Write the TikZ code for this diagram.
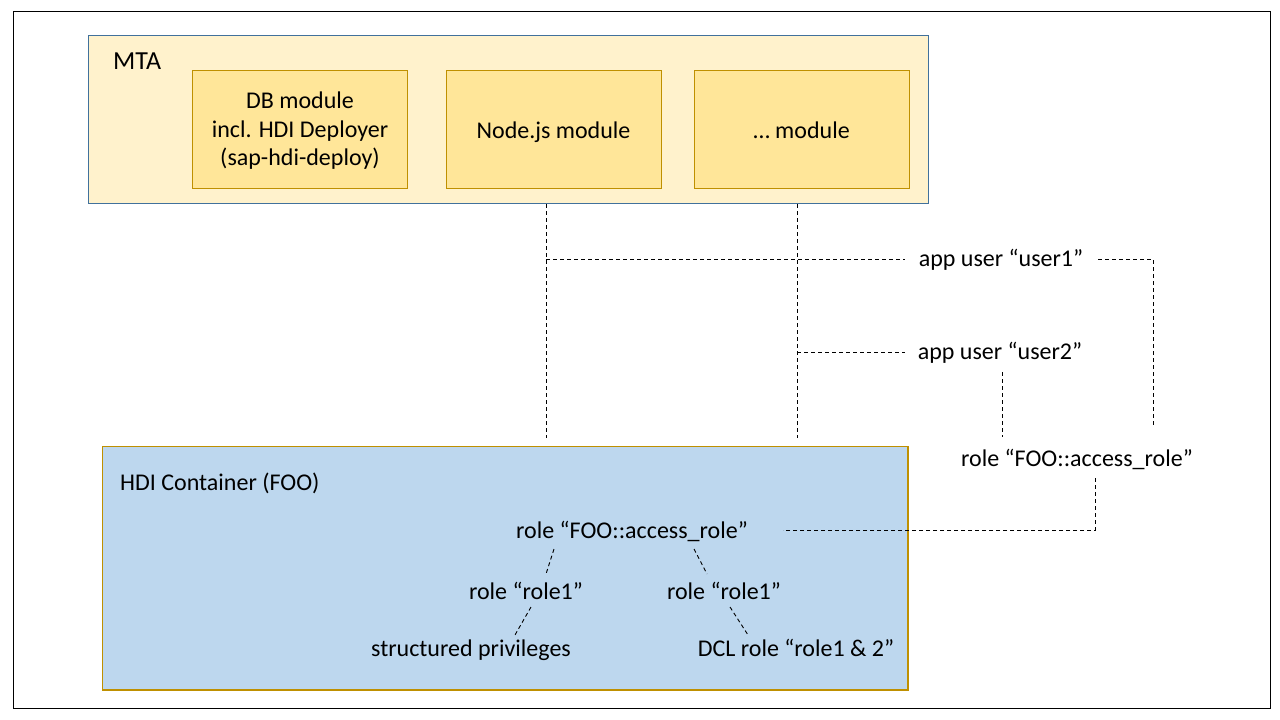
\documentclass[tikz,border=0pt]{standalone}
\usepackage{fontspec}
\setmainfont{Carlito}
\definecolor{mtafill}{HTML}{FFF2CC}
\definecolor{mtaline}{HTML}{41719C}
\definecolor{modfill}{HTML}{FFE699}
\definecolor{goldline}{HTML}{BF9000}
\definecolor{hdifill}{HTML}{BDD7EE}
\begin{document}
\begin{tikzpicture}[x=1pt,y=-1pt,
  txt/.style={inner sep=0pt,anchor=base,font=\fontsize{24}{28.5}\selectfont},
  modbox/.style={draw=goldline,fill=modfill,line width=0.9pt},
  conn/.style={draw=black,line width=0.9pt,dash pattern=on 4pt off 3pt}]
\useasboundingbox (0,0) rectangle (1280,720);
% outer frame
\draw[line width=1.4pt] (13.5,11.5) rectangle (1270.5,708.5);
% MTA
\draw[fill=mtafill,draw=mtaline,line width=0.9pt] (88.5,35.5) rectangle (928.5,203);
\node[txt,anchor=base west,font=\fontsize{26}{30}\selectfont] (mta) at (113,69) {MTA};
\draw[modbox] (192,70.5) rectangle (407.5,188);
\draw[modbox] (446,70.5) rectangle (661.5,188);
\draw[modbox] (694,70.5) rectangle (909.5,188);
\node[txt,anchor=center,align=center,font=\fontsize{24}{28.5}\selectfont] (db) at (300,131) {DB module\\incl. HDI Deployer\\(sap-hdi-deploy)};
\node[txt] (nodejs) at (553.5,138) {Node.js module};
\node[txt] (other) at (801.5,138) {… module};
% HDI container
\draw[fill=hdifill,draw=goldline,line width=1.1pt] (102.5,446.5) rectangle (908,690);
\node[txt,anchor=base west] (hdi) at (120,490) {HDI Container (FOO)};
% text nodes
\node[txt] (user1) at (1001,266) {app user “user1”};
\node[txt] (user2) at (1000,359) {app user “user2”};
\node[txt] (rolext) at (1077,466) {role “FOO::access\_role”};
\node[txt] (rolein) at (632,538) {role “FOO::access\_role”};
\node[txt] (r1l) at (526,599) {role “role1”};
\node[txt] (r1r) at (724,599) {role “role1”};
\node[txt] (sp) at (471,656) {structured privileges};
\node[txt] (dcl) at (796,656) {DCL role “role1 \& 2”};
% connector coordinates
\coordinate (a1) at (546,204);
\coordinate (a2) at (546,438);
\coordinate (a3) at (546,259);
\coordinate (b1) at (797,204);
\coordinate (b2) at (797,438);
\coordinate (b3) at (797,352);
\coordinate (u1e) at (905,259);
\coordinate (u1s) at (1098,259);
\coordinate (u1c) at (1153,259);
\coordinate (u1d) at (1153,425);
\coordinate (u2e) at (905,352);
\coordinate (u2a) at (1002,372);
\coordinate (u2b) at (1002,437);
\coordinate (rxa) at (1095,478);
\coordinate (rxc) at (1095,530);
\coordinate (rxe) at (783,530);
\coordinate (d1a) at (554,549);
\coordinate (d1b) at (546,574);
\coordinate (d2a) at (694,549);
\coordinate (d2b) at (707,574);
\coordinate (d3a) at (531,607);
\coordinate (d3b) at (515,635);
\coordinate (d4a) at (730,607);
\coordinate (d4b) at (748,635);
% connectors
\draw[conn] (a1) -- (a2);
\draw[conn] (b1) -- (b2);
\draw[conn] (a3) -- (u1e);
\draw[conn] (u1s) -- (u1c) -- (u1d);
\draw[conn] (b3) -- (u2e);
\draw[conn] (u2a) -- (u2b);
\draw[conn] (rxa) -- (rxc) -- (rxe);
\draw[conn] (d1a) -- (d1b);
\draw[conn] (d2a) -- (d2b);
\draw[conn] (d3a) -- (d3b);
\draw[conn] (d4a) -- (d4b);
\end{tikzpicture}
\end{document}
